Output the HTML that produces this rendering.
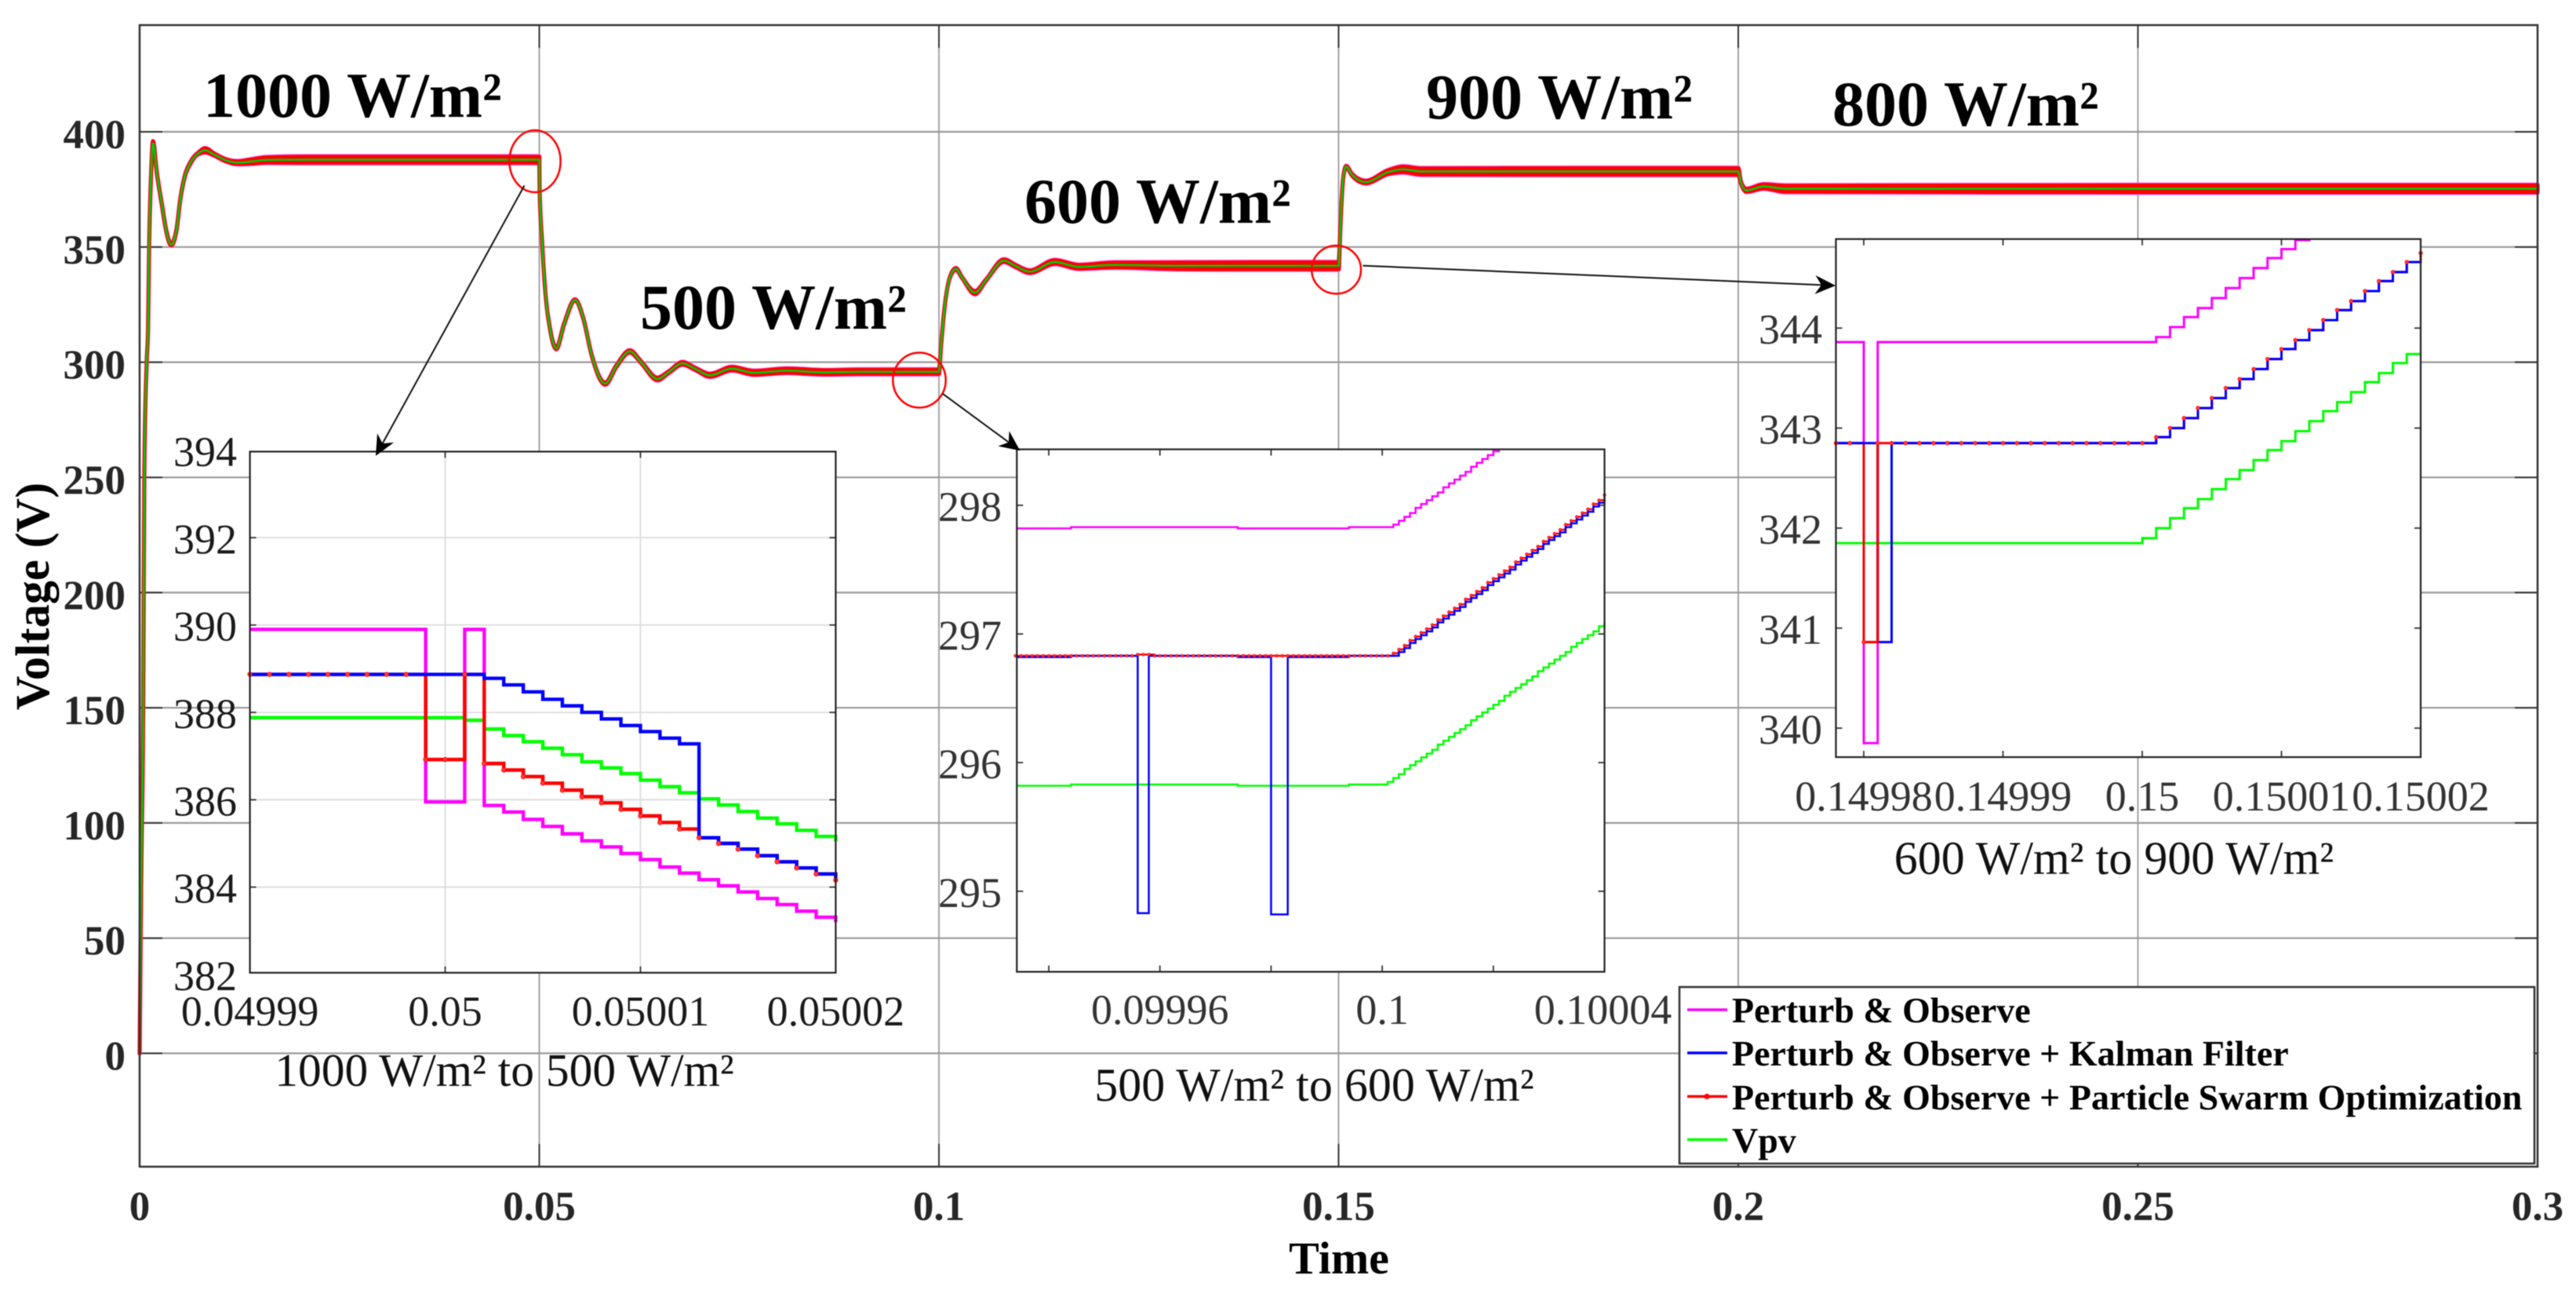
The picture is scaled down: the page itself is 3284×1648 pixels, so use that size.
<!DOCTYPE html>
<html lang="en">
<head>
<meta charset="utf-8">
<title>PV voltage under irradiance steps</title>
<style>
html,body{margin:0;padding:0;background:#fff;}
body{width:3284px;height:1648px;overflow:hidden;}
svg{display:block;font-family:"Liberation Serif","DejaVu Serif",serif;filter:blur(0.6px);}
</style>
</head>
<body>
<svg id="chart" xmlns="http://www.w3.org/2000/svg" width="3284" height="1648" viewBox="0 0 3284 1648">
<rect x="0" y="0" width="3284" height="1648" fill="#fff"/>
<g id="main-grid"></g>
<g id="main-series"></g>
<rect x="178" y="32" width="3057" height="1455" fill="none" stroke="#333" stroke-width="2.5"/>
<g id="main-ticks"></g>
<text transform="translate(62,760) rotate(-90)" text-anchor="middle" font-size="61" font-weight="bold" fill="#000" textLength="290" lengthAdjust="spacingAndGlyphs">Voltage (V)</text>
<text x="1707" y="1623" text-anchor="middle" font-size="58" font-weight="bold" fill="#000">Time</text>

<text x="259" y="149" font-size="82" font-weight="bold" fill="#000">1000 W/m²</text>
<text x="816" y="419" font-size="82" font-weight="bold" fill="#000">500 W/m²</text>
<text x="1306" y="284" font-size="82" font-weight="bold" fill="#000">600 W/m²</text>
<text x="1818" y="151" font-size="82" font-weight="bold" fill="#000">900 W/m²</text>
<text x="2336" y="160" font-size="82" font-weight="bold" fill="#000">800 W/m²</text>

<g id="insets"></g>

<text x="643" y="1384" text-anchor="middle" font-size="59.5" fill="#111">1000 W/m² to 500 W/m²</text>
<text x="1675.5" y="1403" text-anchor="middle" font-size="60" fill="#111">500 W/m² to 600 W/m²</text>
<text x="2695" y="1114" text-anchor="middle" font-size="60" fill="#111">600 W/m² to 900 W/m²</text>

<ellipse cx="682" cy="205.5" rx="32.6" ry="39.5" fill="none" stroke="#ff0000" stroke-width="2.5"/>
<ellipse cx="1172" cy="484.5" rx="33.7" ry="35" fill="none" stroke="#ff0000" stroke-width="2.5"/>
<ellipse cx="1703.6" cy="343.7" rx="31.4" ry="30.7" fill="none" stroke="#ff0000" stroke-width="2.5"/>
<g id="arrows"></g>

<g>
  <rect x="2141" y="1258" width="1090" height="225" fill="#fff" stroke="#333" stroke-width="2.5"/>
  <g>
    <line x1="2151" x2="2202" y1="1287" y2="1287" stroke="#ff00ff" stroke-width="3.5"/>
    <text x="2208" y="1303" font-size="46" font-weight="bold" fill="#000">Perturb &amp; Observe</text>
  </g>
  <g>
    <line x1="2151" x2="2202" y1="1342" y2="1342" stroke="#0000ff" stroke-width="3.5"/>
    <text x="2208" y="1358" font-size="46" font-weight="bold" fill="#000">Perturb &amp; Observe + Kalman Filter</text>
  </g>
  <g>
    <line x1="2151" x2="2202" y1="1397.5" y2="1397.5" stroke="#ff0000" stroke-width="3.5"/>
    <circle cx="2176" cy="1397.5" r="3.5" fill="#ff0000"/>
    <text x="2208" y="1414" font-size="46" font-weight="bold" fill="#000">Perturb &amp; Observe + Particle Swarm Optimization</text>
  </g>
  <g>
    <line x1="2151" x2="2202" y1="1452.5" y2="1452.5" stroke="#00ff00" stroke-width="3.5"/>
    <text x="2208" y="1469" font-size="46" font-weight="bold" fill="#000">Vpv</text>
  </g>
</g>
</svg>

<script>
/* ===== main chart data ===== */
const mainXTicks = [0, 0.05, 0.1, 0.15, 0.2, 0.25, 0.3];
const mainXTickLabels = ['0', '0.05', '0.1', '0.15', '0.2', '0.25', '0.3'];
const mainYTicks = [0, 50, 100, 150, 200, 250, 300, 350, 400];
const mainYTickLabels = ['0', '50', '100', '150', '200', '250', '300', '350', '400'];

const mainTime = [0,.00022,.00045,.00059,.00088,.00105,.00118,.00144,.00167,.00216,.00282,.00331,.00395,.00461,.0051,.0056,.0064,.0074,.0082,.0093,.01067,.01227,.01394,.0159,.02,.03,.04,.05,
.05005,.05034,.05069,.05137,.05213,.0531,.05447,.05551,.05653,.05825,.05963,.06133,.06274,.06479,.06617,.06791,.06962,.07134,.07409,.07684,.08096,.08577,.09,.095,.1,
.10025,.10062,.10137,.10212,.10288,.10451,.10588,.10813,.10962,.11135,.11451,.11752,.12202,.13,.14,.15,
.15024,.15056,.15094,.1517,.15342,.1562,.15808,.16032,.18,.2,
.20034,.20101,.20318,.2059,.25,.3];
const mainVpv = [0,82,150,253,300,314,348,382,395,382,367.6,357.4,351,357.4,371,380,386.8,390.8,392,390.2,387.8,386.6,387.1,387.8,387.88,387.88,387.88,387.88,
373.8,353,333.4,314,306,316.5,327,319,303.4,290.7,298.2,304.7,300,292.7,295.6,299.5,296.9,294.3,297.2,295.4,296.3,295.6,295.83,295.83,295.83,
306.4,321,336.8,340.5,336.8,330.2,335.6,344.1,341.7,339.3,343.5,341.4,342.2,341.85,341.85,341.85,
360,379.4,384.9,381.3,378.2,382.5,383.7,382.8,382.8,382.8,
377.9,374.6,376.3,375.3,375.3,375.3];
const mainPSORipple = [0,0,0,0,0,0,0,0,.9,.2,.2,.2,.3,.2,.2,.2,.3,.3,.9,.4,.4,.6,.9,1.1,1.3,1.3,1.3,1.3,
0,0,0,.1,.3,.2,.2,.1,.1,.4,.3,.4,.3,.5,.3,.5,.4,.6,.7,.8,.9,.9,.9,.9,.9,
0,0,.1,.3,.1,.6,.2,.5,.4,.5,.8,.8,1,1.4,1.5,1.5,
0,0,.2,.3,.5,.8,1.2,1.3,1.4,1.4,
.3,.6,.9,1.3,1.5,1.5];
const mainPORipple = [.2,.2,.2,.2,.2,.2,.2,.2,1,.4,.4,.4,.5,.4,.4,.4,.5,.5,1,.6,.6,.8,1.1,1.4,1.6,1.6,1.6,1.6,
.2,.2,.2,.3,.5,.4,.4,.3,.3,.6,.5,.6,.5,.7,.5,.7,.6,.8,.9,1,1.1,1.1,1.2,1.2,1.2,
.2,.2,.3,.5,.3,.8,.4,.7,.6,.7,1,1,1.3,1.7,1.8,1.8,
.2,.2,.4,.5,.7,1,1.5,1.6,1.7,1.7,
.5,.8,1.1,1.6,1.8,1.8];
const mainKFOffset = 0.5;

/* ===== inset 1: 1000 to 500 W/m2 (1 microsecond samples from 0.04999) ===== */
const inset1XTicks = [0.04999, 0.05, 0.05001, 0.05002];
const inset1XLabels = ['0.04999', '0.05', '0.05001', '0.05002'];
const inset1YTicks = [382, 384, 386, 388, 390, 392, 394];
const inset1YLabels = ['382', '384', '386', '388', '390', '392', '394'];
const inset1PO = [389.9,389.9,389.9,389.9,389.9,389.9,389.9,389.9,389.9,385.95,385.95,389.9,385.87,385.72,385.55,385.39,385.22,385.06,384.92,384.77,384.63,384.46,384.32,384.17,384.03,383.89,383.74,383.6,383.45,383.31,383.2];
const inset1KF = [388.87,388.87,388.87,388.87,388.87,388.87,388.87,388.87,388.87,388.87,388.87,388.87,388.78,388.63,388.47,388.3,388.15,388,387.85,387.7,387.56,387.41,387.28,385.13,385,384.87,384.72,384.58,384.44,384.3,384.16];
const inset1PSO = [388.87,388.87,388.87,388.87,388.87,388.87,388.87,388.87,388.87,386.92,386.92,388.87,386.83,386.68,386.53,386.38,386.22,386.07,385.93,385.78,385.63,385.48,385.33,385.13,385,384.87,384.72,384.58,384.44,384.3,384.16];
const inset1Vpv = [387.88,387.88,387.88,387.88,387.88,387.88,387.88,387.88,387.88,387.88,387.88,387.82,387.62,387.47,387.33,387.18,387.03,386.87,386.73,386.6,386.45,386.3,386.16,386.02,385.88,385.73,385.58,385.45,385.3,385.16,385.05];

/* ===== inset 2: 500 to 600 W/m2 (1 microsecond samples from 0.099934) ===== */
const inset2XTicks = [0.09994, 0.09996, 0.09998, 0.1, 0.10002, 0.10004];
const inset2XLabels = ['', '0.09996', '', '0.1', '', '0.10004'];
const inset2YTicks = [295, 296, 297, 298];
const inset2YLabels = ['295', '296', '297', '298'];
const inset2PO = [297.82,297.82,297.82,297.82,297.82,297.82,297.82,297.82,297.82,297.82,
297.83,297.83,297.83,297.83,297.83,297.83,297.83,297.83,297.83,297.83,
297.83,297.83,297.83,297.83,297.83,297.83,297.83,297.83,297.83,297.83,
297.83,297.83,297.83,297.83,297.83,297.83,297.83,297.83,297.83,297.83,
297.82,297.82,297.82,297.82,297.82,297.82,297.82,297.82,297.82,297.82,
297.82,297.82,297.82,297.82,297.82,297.82,297.82,297.82,297.82,297.82,
297.83,297.83,297.83,297.83,297.83,297.83,297.83,297.83,
297.85,297.88,297.91,297.94,297.98,298.01,298.04,298.07,298.10,298.14,298.17,298.20,298.23,298.26,298.30,298.33,298.36,298.39,298.42,298.46,298.49,298.52,298.55,298.58,298.62,298.65,298.68,298.71,298.74,298.78,298.81,298.84,298.87,298.90,298.94,298.97,299.00,299.03,299.06];
const inset2KF = [296.82,296.82,296.82,296.82,296.82,296.82,296.82,296.82,296.82,296.82,
296.83,296.83,296.83,296.83,296.83,296.83,296.83,296.83,296.83,296.83,
296.83,296.83,294.83,294.83,296.83,296.83,296.83,296.83,296.83,296.83,
296.83,296.83,296.83,296.83,296.83,296.83,296.83,296.83,296.83,296.83,
296.82,296.82,296.82,296.82,296.82,296.82,294.82,294.82,294.82,296.82,
296.82,296.82,296.82,296.82,296.82,296.82,296.82,296.82,296.82,296.82,
296.83,296.83,296.83,296.83,296.83,296.83,296.83,296.83,
296.83,296.86,296.89,296.93,296.96,296.99,297.02,297.05,297.09,297.12,297.15,297.18,297.21,297.25,297.28,297.31,297.34,297.38,297.41,297.44,297.47,297.50,297.54,297.57,297.60,297.63,297.66,297.70,297.73,297.76,297.79,297.83,297.86,297.89,297.92,297.95,297.99,298.02,298.05];
const inset2PSO = [296.83,296.83,296.83,296.83,296.83,296.83,296.83,296.83,296.83,296.83,
296.83,296.83,296.83,296.83,296.83,296.83,296.83,296.83,296.83,296.83,
296.83,296.83,296.84,296.84,296.84,296.83,296.83,296.83,296.83,296.83,
296.83,296.83,296.83,296.83,296.83,296.83,296.83,296.83,296.83,296.83,
296.83,296.83,296.83,296.83,296.83,296.83,296.83,296.83,296.83,296.83,
296.83,296.83,296.83,296.83,296.83,296.83,296.83,296.83,296.83,296.83,
296.83,296.83,296.83,296.83,296.83,296.83,296.83,296.83,
296.85,296.88,296.91,296.95,296.98,297.01,297.04,297.07,297.11,297.14,297.17,297.20,297.23,297.27,297.30,297.33,297.36,297.40,297.43,297.46,297.49,297.52,297.56,297.59,297.62,297.65,297.68,297.72,297.75,297.78,297.81,297.85,297.88,297.91,297.94,297.97,298.01,298.04,298.08];
const inset2Vpv = [295.82,295.82,295.82,295.82,295.82,295.82,295.82,295.82,295.82,295.82,
295.83,295.83,295.83,295.83,295.83,295.83,295.83,295.83,295.83,295.83,
295.83,295.83,295.83,295.83,295.83,295.83,295.83,295.83,295.83,295.83,
295.83,295.83,295.83,295.83,295.83,295.83,295.83,295.83,295.83,295.83,
295.82,295.82,295.82,295.82,295.82,295.82,295.82,295.82,295.82,295.82,
295.82,295.82,295.82,295.82,295.82,295.82,295.82,295.82,295.82,295.82,
295.83,295.83,295.83,295.83,295.83,295.83,295.83,
295.85,295.88,295.91,295.95,295.98,296.01,296.04,296.07,296.10,296.14,296.17,296.20,296.23,296.26,296.29,296.33,296.36,296.39,296.42,296.45,296.48,296.52,296.55,296.58,296.61,296.64,296.67,296.71,296.74,296.77,296.80,296.83,296.86,296.90,296.93,296.96,296.99,297.02,297.06,297.09];

/* ===== inset 3: 600 to 900 W/m2 (1 microsecond samples from 0.149978) ===== */
const inset3XTicks = [0.14998, 0.14999, 0.15, 0.15001, 0.15002];
const inset3XLabels = ['0.14998', '0.14999', '0.15', '0.15001', '0.15002'];
const inset3YTicks = [340, 341, 342, 343, 344];
const inset3YLabels = ['340', '341', '342', '343', '344'];
const inset3PO = [343.86,343.86,339.85,343.86,343.86,343.86,343.86,343.86,343.86,343.86,343.86,343.86,343.86,343.86,343.86,343.86,343.86,343.86,343.86,343.86,343.86,343.86,343.86,343.91,344.01,344.11,344.2,344.3,344.4,344.5,344.6,344.7,344.79,344.88,345,345.1,345.2,345.3,345.4,345.5,345.6,345.7,345.8];
const inset3KF = [342.85,342.85,342.85,340.86,342.85,342.85,342.85,342.85,342.85,342.85,342.85,342.85,342.85,342.85,342.85,342.85,342.85,342.85,342.85,342.85,342.85,342.85,342.85,342.91,343,343.1,343.2,343.3,343.4,343.49,343.59,343.69,343.79,343.88,343.98,344.08,344.18,344.27,344.37,344.47,344.56,344.66,344.66];
const inset3PSO = [342.85,342.85,340.86,342.85,342.85,342.85,342.85,342.85,342.85,342.85,342.85,342.85,342.85,342.85,342.85,342.85,342.85,342.85,342.85,342.85,342.85,342.85,342.85,342.91,343,343.1,343.2,343.3,343.4,343.49,343.59,343.69,343.79,343.88,343.98,344.08,344.18,344.27,344.37,344.47,344.56,344.66,344.75];
const inset3Vpv = [341.85,341.85,341.85,341.85,341.85,341.85,341.85,341.85,341.85,341.85,341.85,341.85,341.85,341.85,341.85,341.85,341.85,341.85,341.85,341.85,341.85,341.85,341.9,342,342.1,342.2,342.29,342.39,342.49,342.58,342.68,342.78,342.87,342.97,343.07,343.17,343.26,343.36,343.46,343.55,343.65,343.74,343.74];

/* ===== drawing ===== */
const NS = 'http://www.w3.org/2000/svg';
function mk(parent, tag, attrs, txt) {
  const el = document.createElementNS(NS, tag);
  for (const k in attrs) el.setAttribute(k, attrs[k]);
  if (txt !== undefined) el.textContent = txt;
  parent.appendChild(el);
  return el;
}

/* main axis functions */
function mainX(t) { return 178 + t * 10190; }
function mainY(v) { return 1342.5 - v * 2.9362; }

const gGrid = document.getElementById('main-grid');
const gSeries = document.getElementById('main-series');
const gTicks = document.getElementById('main-ticks');

mainXTicks.forEach((t, i) => {
  const x = mainX(t);
  const grid = mk(gGrid, 'line', {x1: x, x2: x, y1: 32, y2: 1487, stroke: '#9a9a9a', 'stroke-width': 1.8});
  
  
  const tickTop = mk(gGrid, 'line', {x1: x, x2: x, y1: 32, y2: 61, stroke: '#333', 'stroke-width': 2});
  
  
  const tickBottom = mk(gGrid, 'line', {x1: x, x2: x, y1: 1458, y2: 1487, stroke: '#333', 'stroke-width': 2});
  
  
  const label = mk(gTicks, 'text', {x: x, y: 1555, 'text-anchor': 'middle', 'font-size': 53, 'font-weight': 'bold', fill: '#262626'}, mainXTickLabels[i]);
  
  
});
mainYTicks.forEach((v, i) => {
  const y = mainY(v);
  const grid = mk(gGrid, 'line', {x1: 178, x2: 3235, y1: y, y2: y, stroke: '#9a9a9a', 'stroke-width': 2.2});
  
  
  const tickLeft = mk(gGrid, 'line', {x1: 178, x2: 207, y1: y, y2: y, stroke: '#333', 'stroke-width': 2});
  
  
  const tickRight = mk(gGrid, 'line', {x1: 3206, x2: 3235, y1: y, y2: y, stroke: '#333', 'stroke-width': 2});
  
  
  const label = mk(gTicks, 'text', {x: 160, y: y + 21, 'text-anchor': 'end', 'font-size': 53, 'font-weight': 'bold', fill: '#262626'}, mainYTickLabels[i]);
  
  
});

/* monotone cubic segments so the ringing renders as the smooth curve it is */
function monoSegs(xs, ys) {
  const n = xs.length, s = [], tan = [];
  for (let i = 0; i < n - 1; i++) s.push((ys[i + 1] - ys[i]) / Math.max(xs[i + 1] - xs[i], 1e-6));
  tan[0] = s[0];
  tan[n - 1] = s[n - 2];
  for (let i = 1; i < n - 1; i++) {
    const h0 = xs[i] - xs[i - 1], h1 = xs[i + 1] - xs[i];
    const p = (s[i - 1] * h1 + s[i] * h0) / Math.max(h0 + h1, 1e-6);
    tan[i] = (Math.sign(s[i - 1]) + Math.sign(s[i])) * Math.min(Math.abs(s[i - 1]), Math.abs(s[i]), 0.5 * Math.abs(p));
  }
  const segs = [];
  for (let i = 0; i < n - 1; i++) {
    const dx = (xs[i + 1] - xs[i]) / 3;
    segs.push([xs[i] + dx, ys[i] + tan[i] * dx, xs[i + 1] - dx, ys[i + 1] - tan[i + 1] * dx, xs[i], ys[i], xs[i + 1], ys[i + 1]]);
  }
  return segs;
}
function f(n) { return n.toFixed(2); }
function curvePath(values) {
  const xs = mainTime.map(mainX), ys = values.map(mainY);
  let d = 'M' + f(xs[0]) + ' ' + f(ys[0]);
  monoSegs(xs, ys).forEach(q => {
    d += 'C' + f(q[0]) + ' ' + f(q[1]) + ' ' + f(q[2]) + ' ' + f(q[3]) + ' ' + f(q[6]) + ' ' + f(q[7]);
  });
  return d;
}
function bandPath(center, ripple) {
  const xs = mainTime.map(mainX);
  const up = center.map((v, i) => mainY(v + ripple[i]));
  const lo = center.map((v, i) => mainY(v - ripple[i]));
  let d = 'M' + f(xs[0]) + ' ' + f(up[0]);
  monoSegs(xs, up).forEach(q => {
    d += 'C' + f(q[0]) + ' ' + f(q[1]) + ' ' + f(q[2]) + ' ' + f(q[3]) + ' ' + f(q[6]) + ' ' + f(q[7]);
  });
  d += 'L' + f(xs[xs.length - 1]) + ' ' + f(lo[lo.length - 1]);
  monoSegs(xs, lo).reverse().forEach(q => {
    d += 'C' + f(q[2]) + ' ' + f(q[3]) + ' ' + f(q[0]) + ' ' + f(q[1]) + ' ' + f(q[4]) + ' ' + f(q[5]);
  });
  return d + 'Z';
}
const poBand = mk(gSeries, 'path', {d: bandPath(mainVpv, mainPORipple), fill: '#ff40ff', stroke: '#ff70ff', 'stroke-width': 5.5, 'stroke-linejoin': 'round'});


const kfLine = mk(gSeries, 'path', {d: curvePath(mainVpv.map(v => v > 0 ? v + mainKFOffset : v)), fill: 'none', stroke: '#0000ff', 'stroke-width': 2});


const psoBand = mk(gSeries, 'path', {d: bandPath(mainVpv, mainPSORipple), fill: '#ff0000', stroke: '#ff0000', 'stroke-width': 5, 'stroke-linejoin': 'round'});


const vpvLine = mk(gSeries, 'path', {d: curvePath(mainVpv), fill: 'none', stroke: '#00cc00', 'stroke-width': 2.6, 'stroke-linejoin': 'round'});



/* inset drawing */
const gInsets = document.getElementById('insets');
const svgRoot = document.getElementById('chart');
const defs = mk(svgRoot, 'defs', {});

function stairPath(values, sx, sy) {
  let d = 'M' + sx(0).toFixed(2) + ' ' + sy(values[0]).toFixed(2);
  for (let i = 1; i < values.length; i++) {
    d += 'H' + sx(i).toFixed(2) + 'V' + sy(values[i]).toFixed(2);
  }
  return d;
}

function drawInset(cfg) {
  const g = mk(gInsets, 'g', {});
  
  

  const bx = cfg.box;
  const tx = t => bx.x + (t - cfg.xlim[0]) / (cfg.xlim[1] - cfg.xlim[0]) * bx.w;
  const ty = v => bx.y + (cfg.ylim[1] - v) / (cfg.ylim[1] - cfg.ylim[0]) * bx.h;
  const sx = i => tx(cfg.t0 + i * 1e-6);

  const bg = mk(g, 'rect', {x: bx.x, y: bx.y, width: bx.w, height: bx.h, fill: '#fff'});
  
  

  const clipId = 'clip-' + cfg.id;
  const cp = mk(defs, 'clipPath', {id: clipId});
  mk(cp, 'rect', {x: bx.x - 1, y: bx.y, width: bx.w + 5, height: bx.h});

  cfg.xTicks.forEach((t, i) => {
    const x = tx(t);
    if (cfg.grid) {
      const gl = mk(g, 'line', {x1: x, x2: x, y1: bx.y, y2: bx.y + bx.h, stroke: '#dcdcdc', 'stroke-width': 1.8});
      
      
    }
    const t1 = mk(g, 'line', {x1: x, x2: x, y1: bx.y, y2: bx.y + 8, stroke: '#333', 'stroke-width': 1.8});
    
    
    const t2 = mk(g, 'line', {x1: x, x2: x, y1: bx.y + bx.h - 8, y2: bx.y + bx.h, stroke: '#333', 'stroke-width': 1.8});
    
    
    if (cfg.xLabels[i]) {
      const lab = mk(g, 'text', {x: cfg.xLabelAt ? cfg.xLabelAt(i, x) : x, y: cfg.xLabelY, 'text-anchor': 'middle', 'font-size': 54, fill: cfg.textColor}, cfg.xLabels[i]);
      
      
    }
  });
  cfg.yTicks.forEach((v, i) => {
    const y = ty(v);
    if (cfg.grid && v > cfg.ylim[0] && v < cfg.ylim[1]) {
      const gl = mk(g, 'line', {x1: bx.x, x2: bx.x + bx.w, y1: y, y2: y, stroke: '#dcdcdc', 'stroke-width': 1.8});
      
      
    }
    if (v > cfg.ylim[0] && v < cfg.ylim[1]) {
      const t1 = mk(g, 'line', {x1: bx.x, x2: bx.x + 8, y1: y, y2: y, stroke: '#333', 'stroke-width': 1.8});
      
      
      const t2 = mk(g, 'line', {x1: bx.x + bx.w - 8, x2: bx.x + bx.w, y1: y, y2: y, stroke: '#333', 'stroke-width': 1.8});
      
      
    }
    const lab = mk(g, 'text', {x: cfg.yLabelX, y: y + 20, 'text-anchor': 'end', 'font-size': 54, fill: cfg.textColor}, cfg.yLabels[i]);
    
    
  });

  const gMarks = mk(g, 'g', {'clip-path': 'url(#' + clipId + ')'});
  
  

  const vpv = mk(gMarks, 'path', {d: stairPath(cfg.vpv, sx, ty), fill: 'none', stroke: '#00ff00', 'stroke-width': cfg.lw});
  
  
  const po = mk(gMarks, 'path', {d: stairPath(cfg.po, sx, ty), fill: 'none', stroke: '#ff00ff', 'stroke-width': cfg.lw});
  
  
  const pso = mk(gMarks, 'path', {d: stairPath(cfg.pso, sx, ty), fill: 'none', stroke: '#ff0000', 'stroke-width': cfg.lw});
  
  
  const kf = mk(gMarks, 'path', {d: stairPath(cfg.kf, sx, ty), fill: 'none', stroke: '#0000ff', 'stroke-width': cfg.lw});
  
  
  if (cfg.redAboveBlue) {
    cfg.redAboveBlue.forEach(range => {
      const seg = cfg.pso.slice(range[0], range[1] + 1);
      const over = mk(gMarks, 'path', {d: stairPath(seg, i => sx(i + range[0]), ty), fill: 'none', stroke: '#ff0000', 'stroke-width': cfg.lw});
      
      
    });
  }
  const gDots = mk(g, 'g', {});
  
  
  cfg.pso.forEach((v, i) => {
    if (v > cfg.ylim[1]) return;
    const c = mk(gDots, 'circle', {cx: sx(i), cy: ty(v), r: cfg.mr, fill: '#ff3b3b', stroke: '#ff0000', 'stroke-width': 0.8});
    
    
  });

  const frame = mk(g, 'rect', {x: bx.x, y: bx.y, width: bx.w, height: bx.h, fill: 'none', stroke: '#222', 'stroke-width': 2.2});
  
  
}

drawInset({id: '1000-to-500', box: {x: 318.6, y: 575.6, w: 746.8, h: 664.2},
  xlim: [0.04999, 0.05002], ylim: [382.04, 393.97], t0: 0.04999, grid: true,
  xTicks: inset1XTicks, xLabels: inset1XLabels, yTicks: inset1YTicks, yLabels: inset1YLabels,
  xLabelY: 1307, yLabelX: 302, textColor: '#1a1a1a', lw: 4.4, mr: 2.8,
  po: inset1PO, kf: inset1KF, pso: inset1PSO, vpv: inset1Vpv, redAboveBlue: [[9, 11], [12, 22]]});

drawInset({id: '500-to-600', box: {x: 1296.3, y: 572.7, w: 749.2, h: 665.9},
  xlim: [0.09993425, 0.10004], ylim: [294.374, 298.435], t0: 0.099934, grid: false,
  xTicks: inset2XTicks, xLabels: inset2XLabels, yTicks: inset2YTicks, yLabels: inset2YLabels,
  xLabelY: 1305, yLabelX: 1277, textColor: '#333', lw: 2.5, mr: 1.7,
  xLabelAt: (i, x) => x - (i === 5 ? 2 : 0),
  po: inset2PO, kf: inset2KF, pso: inset2PSO, vpv: inset2Vpv});

drawInset({id: '600-to-900', box: {x: 2340.5, y: 304.7, w: 745.5, h: 660.3},
  xlim: [0.149978, 0.15002], ylim: [339.71, 344.89], t0: 0.149978, grid: false,
  xTicks: inset3XTicks, xLabels: inset3XLabels, yTicks: inset3YTicks, yLabels: inset3YLabels,
  xLabelY: 1033, yLabelX: 2323, textColor: '#333', lw: 3, mr: 2.3,
  po: inset3PO, kf: inset3KF, pso: inset3PSO, vpv: inset3Vpv, redAboveBlue: [[2, 3]]});

/* callout arrows */
const gArrows = document.getElementById('arrows');
function arrow(x1, y1, x2, y2) {
  const ang = Math.atan2(y2 - y1, x2 - x1);
  const c = Math.cos(ang), s = Math.sin(ang);
  const len = 26, wid = 12, notch = 18;
  const bx = x2 - c * notch, by = y2 - s * notch;
  const lx = x2 - c * len - s * wid, ly = y2 - s * len + c * wid;
  const rx = x2 - c * len + s * wid, ry = y2 - s * len - c * wid;
  const shaft = mk(gArrows, 'line', {x1: x1, y1: y1, x2: bx, y2: by, stroke: '#111', 'stroke-width': 2});
  
  
  const head = mk(gArrows, 'polygon', {points: [x2, y2, lx, ly, bx, by, rx, ry].join(','), fill: '#000'});
  
  
}
arrow(668.5, 236.5, 479, 581);
arrow(1201.8, 501.8, 1300.4, 574.4);
arrow(1737.5, 338.6, 2340, 364);
</script>
</body>
</html>
